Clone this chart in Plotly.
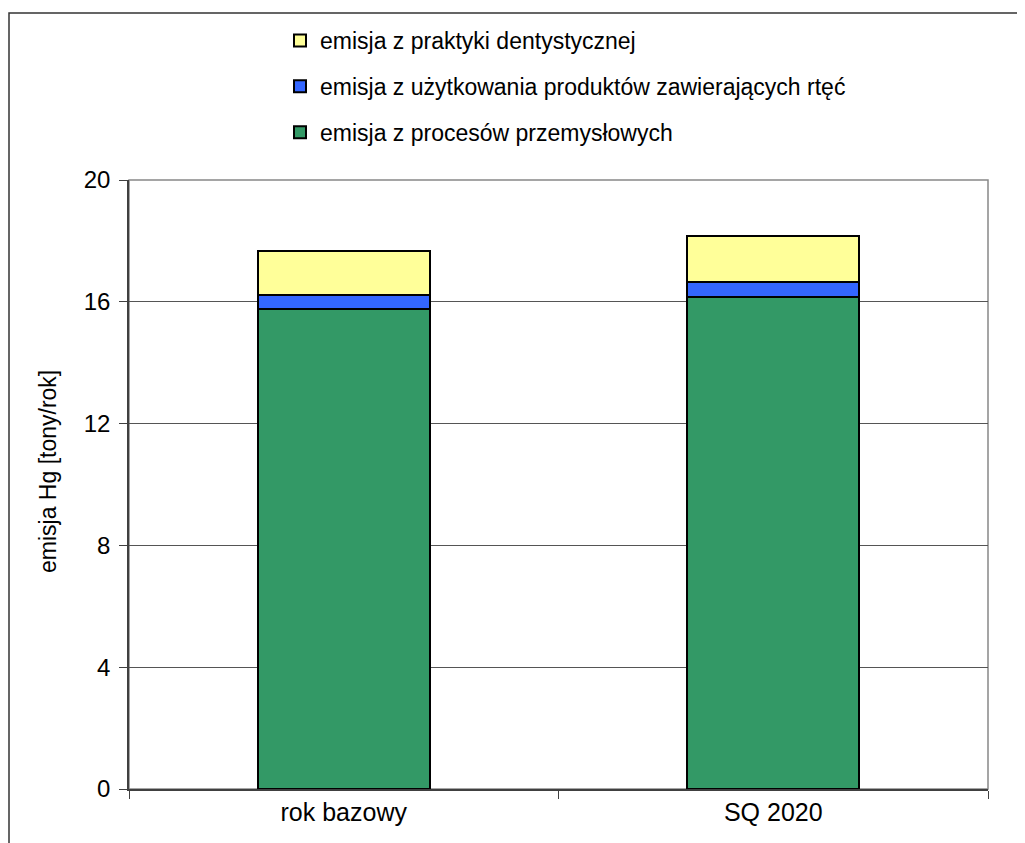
import plotly.graph_objects as go

categories = ["rok bazowy", "SQ 2020"]
series_names = [
    "emisja z procesów przemysłowych",
    "emisja z użytkowania produktów zawierających rtęć",
    "emisja z praktyki dentystycznej",
]
przemyslowe = [15.77, 16.15]
produkty = [0.44, 0.50]
dentystyczne = [1.46, 1.52]
colors = ["#339966", "#3366FF", "#FFFF99"]
y_ticks = [0, 4, 8, 12, 16, 20]

OFF = 8  # page offset of the figure inside the browser window
W, H = 1025, 843
L = 129 - OFF
T = 180 - OFF
R = W - (988 - OFF)
B = H - (789 - OFF)
pw, ph = W - L - R, H - T - B

def px_x(p):
    return (p - OFF - L) / pw

def px_y(p):
    return (H - B - (p - OFF)) / ph

FONT = "Liberation Sans, Arial, sans-serif"

fig = go.Figure()
ranks = [3, 2, 1]
for i, (name, vals) in enumerate(zip(series_names, [przemyslowe, produkty, dentystyczne])):
    fig.add_trace(go.Bar(
        x=categories, y=vals, name=name,
        marker=dict(color=colors[i], line=dict(color="black", width=2)),
        legendgroup=f"g{i}", legendrank=ranks[i],
    ))

fig.update_layout(
    width=W, height=H,
    barmode="stack", bargap=0.6,
    plot_bgcolor="white", paper_bgcolor="white",
    margin=dict(l=L, r=R, t=T, b=B, autoexpand=False),
    font=dict(family=FONT, size=22, color="black"),
    showlegend=True,
    legend=dict(
        x=px_x(280), y=px_y(19), xanchor="left", yanchor="top",
        traceorder="grouped", tracegroupgap=13,
        font=dict(family=FONT, size=23, color="black"),
        bgcolor="rgba(0,0,0,0)", itemwidth=30,
    ),
    xaxis=dict(
        showline=True, linecolor="#404040", linewidth=1.5,
        ticks="outside", ticklen=8, tickcolor="#404040", tickson="boundaries",
        tickfont=dict(family=FONT, size=25), showgrid=False,
    ),
    yaxis=dict(
        range=[0, 20], tickvals=y_ticks, ticktext=[str(v) for v in y_ticks],
        showline=True, linecolor="#404040", linewidth=1.5,
        ticks="outside", ticklen=8, tickcolor="#404040",
        showgrid=True, gridcolor="#555555", gridwidth=1,
        tickfont=dict(family=FONT, size=24), ticklabelstandoff=4,
        zeroline=False,
    ),
)

# plot area border (top/right in gray)
fig.add_shape(type="rect", xref="paper", yref="paper", x0=0, y0=0, x1=1, y1=1,
              line=dict(color="#888888", width=1.5), layer="below")
# outer chart frame (cropped at right and bottom)
fig.add_shape(type="rect", xref="paper", yref="paper",
              x0=px_x(9), y0=px_y(870), x1=px_x(1050), y1=px_y(13),
              line=dict(color="#333333", width=1.5))

fig.add_annotation(
    text="emisja Hg [tony/rok]", textangle=-90,
    xref="paper", yref="paper", x=px_x(48), y=px_y(472),
    xanchor="center", yanchor="middle", showarrow=False,
    font=dict(family=FONT, size=23, color="black"),
)

fig.write_html("out.html")
